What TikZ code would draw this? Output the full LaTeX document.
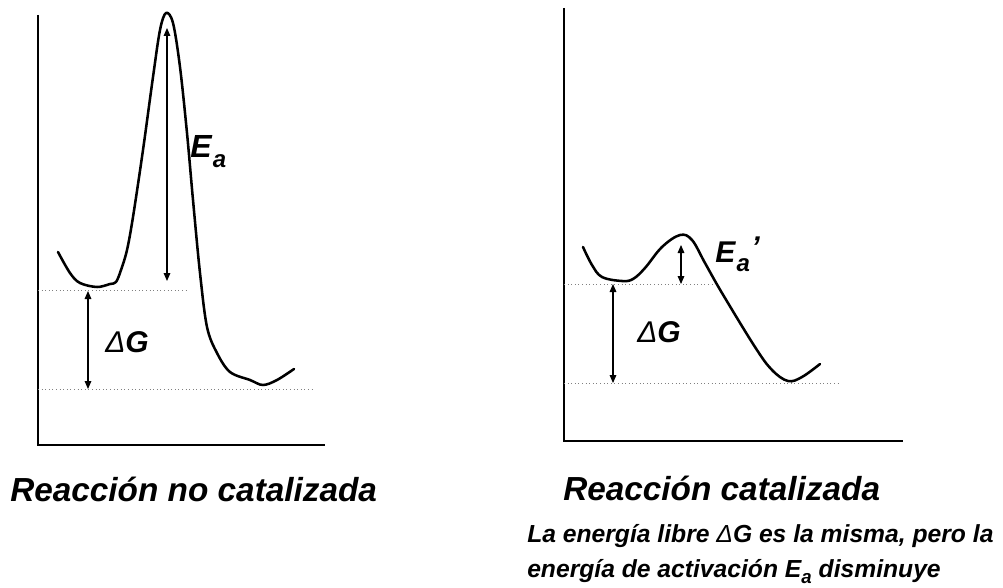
\documentclass[tikz,border=0pt]{standalone}
\usepackage{fontspec}
\setmainfont{Liberation Sans}
\usetikzlibrary{arrows.meta}
\tikzset{
  curve/.style={line width=1.9pt, line join=round, line cap=round},
  axis/.style={line width=1pt},
  level/.style={gray, dotted, line width=0.7pt},
  dim/.style={line width=0.8pt, {Triangle[length=6pt,width=5pt]}-{Triangle[length=6pt,width=5pt]}},
  lbl/.style={inner sep=0pt, anchor=base west, font=\fontsize{22.5pt}{26pt}\selectfont\bfseries\itshape},
  title/.style={inner sep=0pt, anchor=base west, font=\fontsize{25pt}{30pt}\selectfont\bfseries\itshape},
  note/.style={inner sep=0pt, anchor=base west, font=\fontsize{18.5pt}{22pt}\selectfont\bfseries\itshape}
}
\newcommand{\dG}{{\fontseries{m}\selectfont Δ}G}
\newcommand{\subA}{\hspace{1pt}\raisebox{-7pt}{\fontsize{18pt}{20pt}\selectfont a}}
\begin{document}
\begin{tikzpicture}[x=0.75pt,y=-0.75pt]
\useasboundingbox (0,0) rectangle (1003,588);
% ---------- left diagram ----------
\coordinate (LO) at (38,445);
\coordinate (LT) at (38,15);
\coordinate (LR) at (325,445);
\draw[axis] (LT) -- (LO) -- (LR);
\coordinate (L1a) at (38,290); \coordinate (L1b) at (186,290);
\coordinate (L2a) at (38,389); \coordinate (L2b) at (314,389);
\draw[level] (L1a) -- (L1b);
\draw[level] (L2a) -- (L2b);
\draw[curve] plot[smooth, tension=0.55] coordinates {(58,252) (70,273) (80,283) (97,287) (110,284) (116,282) (121,270) (127,250) (133,217) (143,150) (153,77) (160,30) (166,13) (173,23) (180,67) (187,133) (193,200) (200,273) (207,327) (217,353) (230,372) (250,380) (263,385) (277,380) (294,369)};
\coordinate (EaT) at (167,28); \coordinate (EaB) at (167,281);
\draw[dim] (EaT) -- (EaB);
\coordinate (GLT) at (88,291); \coordinate (GLB) at (88,389);
\draw[dim] (GLT) -- (GLB);
\node[lbl, font=\fontsize{24pt}{28pt}\selectfont\bfseries\itshape] (ea) at (190,158) {E\subA};
\node[lbl] (gl) at (105,352) {\dG};
\node[title] (tl) at (10,501) {Reacción no catalizada};
% ---------- right diagram ----------
\coordinate (RO) at (564,441);
\coordinate (RT) at (564,8);
\coordinate (RR) at (903,441);
\draw[axis] (RT) -- (RO) -- (RR);
\coordinate (R1a) at (564,284); \coordinate (R1b) at (712,284);
\coordinate (R2a) at (564,383); \coordinate (R2b) at (840,383);
\draw[level] (R1a) -- (R1b);
\draw[level] (R2a) -- (R2b);
\draw[curve] plot[smooth, tension=0.6] coordinates {(583,247) (592,265) (602,277) (622,281) (633,279) (645,268) (662,247) (680,235) (692,240) (705,263) (722,293) (755,347) (772,370) (788,381) (802,377) (820,364)};
\coordinate (EbT) at (681,245); \coordinate (EbB) at (681,284);
\draw[dim] (EbT) -- (EbB);
\coordinate (GRT) at (613,284); \coordinate (GRB) at (613,383);
\draw[dim] (GRT) -- (GRB);
\node[lbl] (eb) at (715,262) {E\subA\hspace{1pt}\raisebox{3pt}{’}};
\node[lbl] (gr) at (637,342) {\dG};
\node[title] (tr) at (563,500) {Reacción catalizada};
\node[note] (n1) at (527,542) {La energía libre \dG\ es la misma, pero la};
\node[note] (n2) at (527,577) {energía de activación E\raisebox{-5pt}{\fontsize{14pt}{16pt}\selectfont a} disminuye};
\end{tikzpicture}
\end{document}
